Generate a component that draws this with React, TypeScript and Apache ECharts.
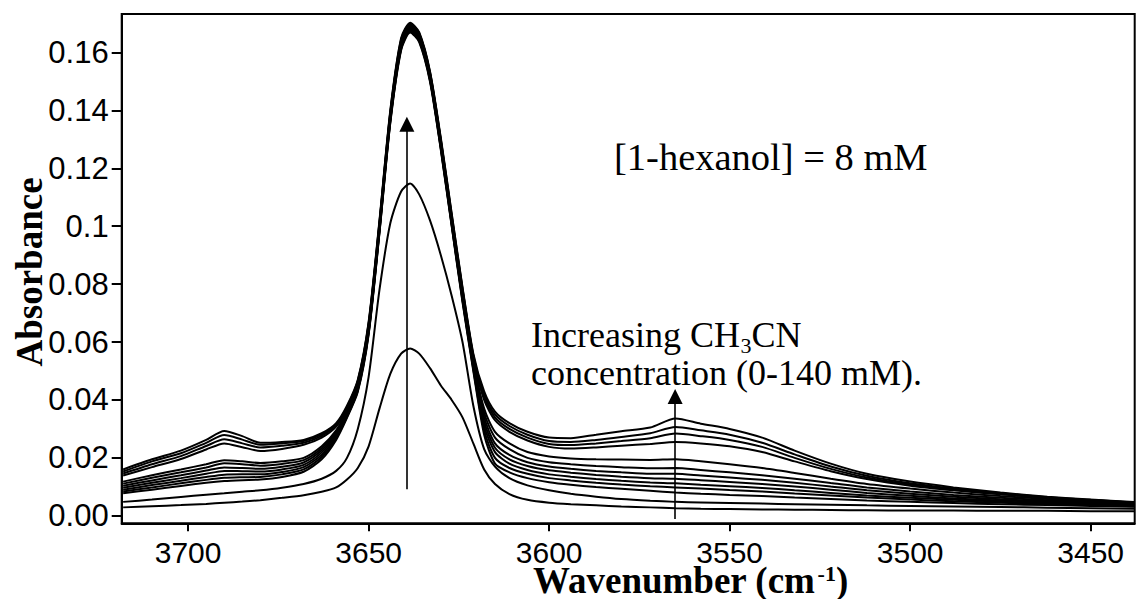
import React, { useEffect, useRef } from 'react';
import * as echarts from 'echarts';

// Wavenumber grid (cm-1)
const wavenumbers = [3718, 3710, 3702, 3695, 3690, 3685, 3680, 3674, 3668, 3663, 3659,
  3656, 3653, 3650, 3647, 3644, 3641, 3638.5, 3636, 3633, 3630, 3627, 3624, 3621, 3618,
  3615, 3611, 3606, 3600, 3594, 3587, 3580, 3572, 3565, 3558, 3550, 3541, 3532, 3522, 3512,
  3500, 3488, 3475, 3462, 3450, 3438];

// Absorbance spectra (lowest to highest)
const spec00 = [0.0029, 0.0033, 0.0037, 0.0041, 0.0045, 0.0049, 0.0054, 0.0062, 0.0071, 0.0083, 0.0098,
  0.0125, 0.0165, 0.0240, 0.0370, 0.0490, 0.0560, 0.0578, 0.0560, 0.0510, 0.0450, 0.0400, 0.0340, 0.0250, 0.0160,
  0.0110, 0.0075, 0.0055, 0.0045, 0.0040, 0.0036, 0.0032, 0.0029, 0.0026, 0.0024, 0.0023, 0.0022, 0.0021, 0.0020, 0.0019,
  0.0018, 0.0018, 0.0017, 0.0017, 0.0016, 0.0016];
const spec01 = [0.0048, 0.0056, 0.0065, 0.0073, 0.0078, 0.0083, 0.0088, 0.0097, 0.0110, 0.0128, 0.0155,
  0.0200, 0.0300, 0.0480, 0.0780, 0.1010, 0.1120, 0.1148, 0.1110, 0.1020, 0.0900, 0.0760, 0.0600, 0.0380, 0.0230,
  0.0170, 0.0130, 0.0105, 0.0088, 0.0076, 0.0066, 0.0058, 0.0052, 0.0048, 0.0046, 0.0044, 0.0042, 0.0040, 0.0038, 0.0036,
  0.0034, 0.0032, 0.0030, 0.0028, 0.0026, 0.0024];
const spec02 = [0.0078, 0.0090, 0.0103, 0.0114, 0.0120, 0.0123, 0.0125, 0.0134, 0.0152, 0.0195, 0.0262,
  0.0338, 0.0428, 0.0626, 0.0976, 0.1356, 0.1608, 0.1669, 0.1636, 0.1499, 0.1263, 0.1000, 0.0738, 0.0500, 0.0280,
  0.0180, 0.0150, 0.0130, 0.0116, 0.0107, 0.0099, 0.0093, 0.0086, 0.0080, 0.0076, 0.0072, 0.0068, 0.0063, 0.0058, 0.0053,
  0.0048, 0.0044, 0.0040, 0.0037, 0.0034, 0.0031];
const spec03 = [0.0084, 0.0098, 0.0112, 0.0124, 0.0131, 0.0133, 0.0134, 0.0143, 0.0160, 0.0203, 0.0268,
  0.0342, 0.0432, 0.0630, 0.0980, 0.1360, 0.1612, 0.1673, 0.1640, 0.1503, 0.1267, 0.1004, 0.0743, 0.0506, 0.0295,
  0.0200, 0.0165, 0.0145, 0.0130, 0.0122, 0.0114, 0.0108, 0.0102, 0.0098, 0.0094, 0.0089, 0.0084, 0.0077, 0.0070, 0.0063,
  0.0056, 0.0050, 0.0045, 0.0041, 0.0037, 0.0033];
const spec04 = [0.0090, 0.0106, 0.0121, 0.0134, 0.0142, 0.0143, 0.0143, 0.0151, 0.0168, 0.0211, 0.0274,
  0.0346, 0.0436, 0.0634, 0.0984, 0.1364, 0.1616, 0.1677, 0.1644, 0.1507, 0.1271, 0.1008, 0.0748, 0.0512, 0.0310,
  0.0220, 0.0180, 0.0158, 0.0143, 0.0135, 0.0127, 0.0121, 0.0115, 0.0112, 0.0107, 0.0102, 0.0096, 0.0088, 0.0079, 0.0070,
  0.0062, 0.0055, 0.0049, 0.0044, 0.0040, 0.0035];
const spec05 = [0.0097, 0.0114, 0.0130, 0.0145, 0.0155, 0.0154, 0.0153, 0.0160, 0.0176, 0.0219, 0.0280,
  0.0350, 0.0440, 0.0638, 0.0988, 0.1368, 0.1620, 0.1680, 0.1647, 0.1510, 0.1275, 0.1012, 0.0753, 0.0518, 0.0325,
  0.0235, 0.0195, 0.0172, 0.0157, 0.0149, 0.0141, 0.0135, 0.0130, 0.0128, 0.0123, 0.0117, 0.0110, 0.0101, 0.0090, 0.0079,
  0.0069, 0.0060, 0.0053, 0.0047, 0.0042, 0.0036];
const spec06 = [0.0104, 0.0122, 0.0140, 0.0156, 0.0167, 0.0165, 0.0162, 0.0169, 0.0184, 0.0226, 0.0285,
  0.0354, 0.0444, 0.0642, 0.0992, 0.1372, 0.1624, 0.1684, 0.1651, 0.1514, 0.1279, 0.1016, 0.0758, 0.0524, 0.0340,
  0.0250, 0.0210, 0.0185, 0.0170, 0.0162, 0.0155, 0.0150, 0.0145, 0.0145, 0.0139, 0.0132, 0.0124, 0.0114, 0.0101, 0.0088,
  0.0076, 0.0066, 0.0057, 0.0050, 0.0044, 0.0038];
const spec07 = [0.0111, 0.0131, 0.0150, 0.0167, 0.0181, 0.0178, 0.0173, 0.0179, 0.0192, 0.0233, 0.0290,
  0.0358, 0.0448, 0.0646, 0.0996, 0.1376, 0.1628, 0.1687, 0.1654, 0.1517, 0.1283, 0.1020, 0.0763, 0.0530, 0.0355,
  0.0270, 0.0230, 0.0200, 0.0185, 0.0178, 0.0172, 0.0168, 0.0164, 0.0165, 0.0158, 0.0150, 0.0140, 0.0128, 0.0113, 0.0098,
  0.0084, 0.0072, 0.0062, 0.0054, 0.0047, 0.0040];
const spec08 = [0.0118, 0.0140, 0.0160, 0.0178, 0.0192, 0.0188, 0.0182, 0.0188, 0.0200, 0.0240, 0.0295,
  0.0362, 0.0452, 0.0650, 0.1000, 0.1380, 0.1632, 0.1690, 0.1657, 0.1520, 0.1287, 0.1024, 0.0768, 0.0536, 0.0370,
  0.0290, 0.0250, 0.0220, 0.0205, 0.0198, 0.0195, 0.0194, 0.0193, 0.0195, 0.0188, 0.0178, 0.0165, 0.0148, 0.0128, 0.0110,
  0.0094, 0.0080, 0.0068, 0.0058, 0.0050, 0.0042];
const spec09 = [0.0139, 0.0168, 0.0196, 0.0229, 0.0250, 0.0237, 0.0224, 0.0231, 0.0245, 0.0270, 0.0308,
  0.0368, 0.0458, 0.0655, 0.1005, 0.1385, 0.1636, 0.1694, 0.1661, 0.1525, 0.1292, 0.1030, 0.0775, 0.0545, 0.0400,
  0.0330, 0.0290, 0.0260, 0.0238, 0.0232, 0.0236, 0.0242, 0.0248, 0.0255, 0.0250, 0.0240, 0.0220, 0.0188, 0.0154, 0.0127,
  0.0104, 0.0088, 0.0074, 0.0062, 0.0053, 0.0044];
const spec10 = [0.0146, 0.0178, 0.0206, 0.0241, 0.0264, 0.0250, 0.0236, 0.0242, 0.0252, 0.0276, 0.0312,
  0.0372, 0.0462, 0.0660, 0.1010, 0.1390, 0.1640, 0.1697, 0.1664, 0.1528, 0.1296, 0.1035, 0.0780, 0.0550, 0.0410,
  0.0340, 0.0300, 0.0270, 0.0248, 0.0244, 0.0250, 0.0258, 0.0268, 0.0284, 0.0275, 0.0262, 0.0238, 0.0200, 0.0162, 0.0132,
  0.0108, 0.0091, 0.0076, 0.0063, 0.0054, 0.0045];
const spec11 = [0.0153, 0.0188, 0.0216, 0.0252, 0.0279, 0.0263, 0.0245, 0.0250, 0.0258, 0.0281, 0.0316,
  0.0376, 0.0466, 0.0665, 0.1015, 0.1395, 0.1645, 0.1700, 0.1667, 0.1532, 0.1300, 0.1040, 0.0785, 0.0555, 0.0420,
  0.0350, 0.0310, 0.0280, 0.0258, 0.0255, 0.0262, 0.0272, 0.0285, 0.0307, 0.0295, 0.0280, 0.0252, 0.0212, 0.0170, 0.0138,
  0.0112, 0.0094, 0.0078, 0.0064, 0.0055, 0.0046];
const spec12 = [0.0160, 0.0195, 0.0225, 0.0262, 0.0293, 0.0275, 0.0252, 0.0255, 0.0262, 0.0285, 0.0320,
  0.0380, 0.0470, 0.0670, 0.1020, 0.1400, 0.1650, 0.1703, 0.1670, 0.1535, 0.1305, 0.1045, 0.0790, 0.0560, 0.0430,
  0.0360, 0.0320, 0.0290, 0.0270, 0.0268, 0.0280, 0.0292, 0.0305, 0.0336, 0.0318, 0.0300, 0.0270, 0.0225, 0.0180, 0.0145,
  0.0118, 0.0098, 0.0080, 0.0066, 0.0056, 0.0048];

const spectra = [spec00, spec01, spec02, spec03, spec04, spec05, spec06, spec07, spec08, spec09, spec10, spec11, spec12];

const xTicks = [3700, 3650, 3600, 3550, 3500, 3450];
const yTicks = [0, 0.02, 0.04, 0.06, 0.08, 0.1, 0.12, 0.14, 0.16];

// Arrows: [wavenumber, from absorbance, to absorbance]
const peakArrow = [3639.4, 0.0092, 0.1352];
const bandArrow = [3565.1, -0.0011, 0.0412];

const serif = '"Liberation Serif", "Times New Roman", serif';
const sans = '"Liberation Sans", Arial, sans-serif';

function txt(x: number, y: number, text: string, size: number, opts: any = {}) {
  return {
    type: 'text',
    x,
    y,
    rotation: opts.rotation || 0,
    silent: true,
    style: {
      text,
      fill: '#000',
      font: `${opts.bold ? 'bold ' : ''}${size}px ${serif}`,
      lineHeight: opts.lineHeight || size,
      align: opts.align || 'left',
      textAlign: opts.align || 'left',
      verticalAlign: 'middle',
      textVerticalAlign: 'middle',
    },
  };
}

export default function App() {
  const ref = useRef<HTMLDivElement>(null);
  useEffect(() => {
    document.body.style.margin = '0';
    const chart = echarts.init(ref.current!, null, { renderer: 'svg' });
    const lineSeries = spectra.map((s, k) => ({
      type: 'line',
      name: 'spectrum ' + k,
      data: wavenumbers.map((w, i) => [w, s[i]]),
      symbol: 'none',
      smooth: 0.25,
      silent: true,
      lineStyle: { color: '#000', width: 2 },
      z: 2,
    }));
    const arrowSeries = {
      type: 'line',
      data: [],
      silent: true,
      markLine: {
        silent: true,
        symbol: ['none', 'triangle'],
        symbolSize: [15, 15],
        label: { show: false },
        lineStyle: { color: '#000', width: 1.6, type: 'solid' },
        emphasis: { disabled: true },
        data: [
          [{ coord: [peakArrow[0], peakArrow[1]] }, { coord: [peakArrow[0], peakArrow[2]] }],
          [{ coord: [bandArrow[0], bandArrow[1]] }, { coord: [bandArrow[0], bandArrow[2]] }],
        ],
      },
    };
    chart.setOption({
      animation: false,
      backgroundColor: '#fff',
      grid: {
        left: 121.7, right: 8.3, top: 14, bottom: 75.7,
        show: true, borderColor: '#000', borderWidth: 2, backgroundColor: 'transparent',
      },
      xAxis: {
        type: 'value',
        inverse: true,
        min: 3437.8,
        max: 3718.4,
        axisLine: { show: true, onZero: false, lineStyle: { color: '#000', width: 2 } },
        axisTick: { show: true, customValues: xTicks, length: 8, lineStyle: { color: '#000', width: 2 } },
        axisLabel: {
          customValues: xTicks, fontSize: 30, fontFamily: sans, color: '#000', margin: 14,
          formatter: (v: number) => String(v),
        },
        splitLine: { show: false },
      },
      yAxis: {
        type: 'value',
        min: -0.0026,
        max: 0.1733,
        axisLine: { show: true, onZero: false, lineStyle: { color: '#000', width: 2 } },
        axisTick: { show: true, customValues: yTicks, length: 10, lineStyle: { color: '#000', width: 2 } },
        axisLabel: {
          customValues: yTicks,
          fontSize: 31,
          fontFamily: sans,
          color: '#000',
          margin: 13,
          formatter: (v: number) => (Math.abs(v - 0.1) < 1e-9 ? '0.1' : v.toFixed(2)),
        },
        splitLine: { show: false },
      },
      series: [...lineSeries, arrowSeries],
      graphic: [
        txt(29, 272, 'Absorbance', 37, { bold: true, align: 'center', rotation: Math.PI / 2, lineHeight: 30 }),
        txt(533, 580, 'Wavenumber (cm', 37, { bold: true, lineHeight: 28 }),
        txt(817.6, 573, '-1', 22, { bold: true, lineHeight: 18 }),
        txt(836, 580, ')', 37, { bold: true, lineHeight: 28 }),
        txt(614, 157, '[1-hexanol] = 8 mM', 38.5),
        txt(531, 335, 'Increasing CH', 36, { lineHeight: 30 }),
        txt(740.5, 345, '3', 22, { lineHeight: 16 }),
        txt(751.5, 335, 'CN', 36, { lineHeight: 30 }),
        txt(531, 373, 'concentration (0-140 mM).', 36, { lineHeight: 30 }),
      ],
    });
    return () => chart.dispose();
  }, []);
  return <div ref={ref} style={{ width: 1143, height: 599 }} />;
}
